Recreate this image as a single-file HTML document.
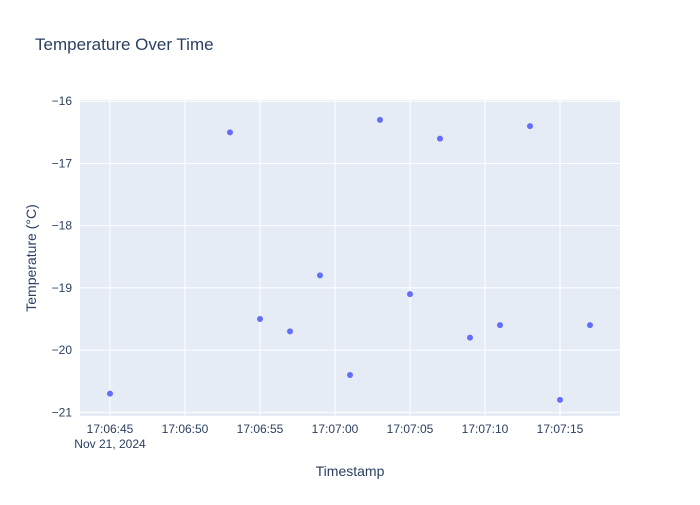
<!DOCTYPE html>
<html><head><meta charset="utf-8"><style>
body{margin:0;background:#fff;font-family:"Liberation Sans",sans-serif;}
svg text{font-family:"Liberation Sans",sans-serif;fill:#2a3f5f;}
</style></head><body>
<svg id="chart" width="700" height="500">
<rect x="0" y="0" width="700" height="500" fill="#fff"/>
<text x="35" y="50" font-size="17">Temperature Over Time</text>
<rect x="80" y="100" width="540" height="316" fill="#e5ecf6"/>
<g id="grid"></g><g id="pts"></g><g id="labels"></g>
<text x="350" y="476" font-size="14" text-anchor="middle">Timestamp</text>
<text x="36" y="258" font-size="14" text-anchor="middle" transform="rotate(-90 36 258)">Temperature (°C)</text>
</svg>
<script>
const seconds=[45,53,55,57,59,61,63,65,67,69,71,73,75,77];
const temps=[-20.7,-16.5,-19.5,-19.7,-18.8,-20.4,-16.3,-19.1,-16.6,-19.8,-19.6,-16.4,-20.8,-19.6];
const xTicks=[45,50,55,60,65,70,75];
const xTickLabels=["17:06:45","17:06:50","17:06:55","17:07:00","17:07:05","17:07:10","17:07:15"];
const yTicks=[-16,-17,-18,-19,-20,-21];
const yTickLabels=["−16","−17","−18","−19","−20","−21"];
const X0=80,X1=620,Y0=100,Y1=416,xmin=43,xmax=79,ymin=-21.06,ymax=-15.98;
const xs=v=>X0+(v-xmin)/(xmax-xmin)*(X1-X0);
const ys=v=>Y1-(v-ymin)/(ymax-ymin)*(Y1-Y0);
const NS="http://www.w3.org/2000/svg";
const g=document.getElementById('grid'),p=document.getElementById('pts'),l=document.getElementById('labels');
function mk(t,a,par){const e=document.createElementNS(NS,t);for(const k in a)e.setAttribute(k,a[k]);par.appendChild(e);return e;}
xTicks.forEach((v,i)=>{
 const ln=mk('line',{x1:xs(v),x2:xs(v),y1:Y0,y2:Y1,stroke:'#fff','stroke-width':1},g);
 
 
 const t=mk('text',{x:xs(v),y:433,'font-size':12,'text-anchor':'middle'},l);t.textContent=xTickLabels[i];
 
 
});
const d=mk('text',{x:xs(45),y:448,'font-size':12,'text-anchor':'middle'},l);d.textContent="Nov 21, 2024";


yTicks.forEach((v,i)=>{
 const ln=mk('line',{x1:X0,x2:X1,y1:ys(v),y2:ys(v),stroke:'#fff','stroke-width':1},g);
 
 
 const t=mk('text',{x:72,y:ys(v)+4,'font-size':12,'text-anchor':'end'},l);t.textContent=yTickLabels[i];
 
 
});
seconds.forEach((s,i)=>{
 const c=mk('circle',{cx:xs(s),cy:ys(temps[i]),r:3,fill:'#636efa'},p);
 
 
});
</script>
</body></html>
